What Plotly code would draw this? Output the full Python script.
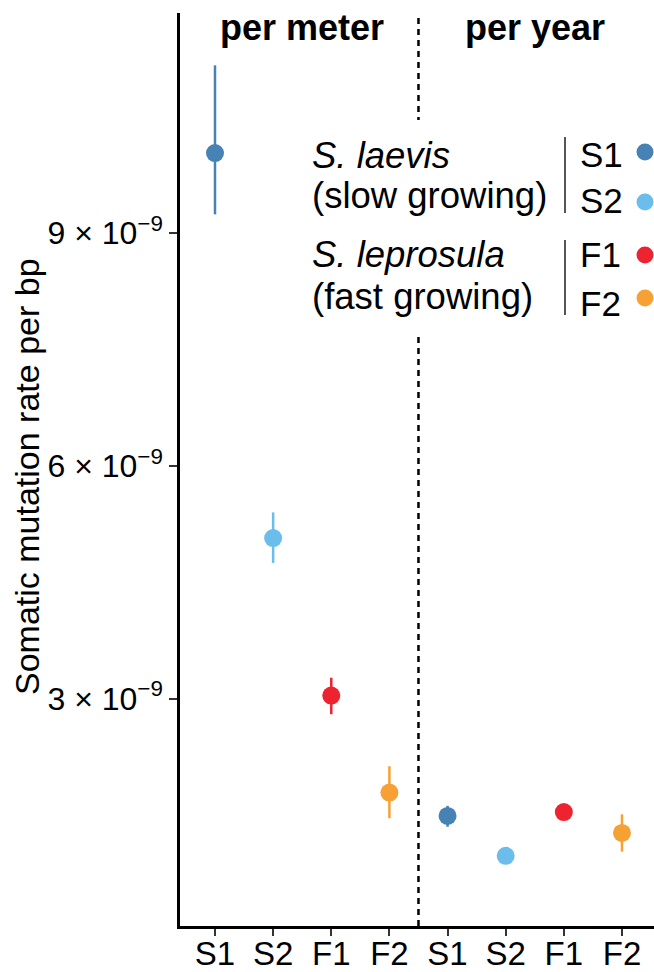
import plotly.graph_objects as go

# ---- data ----
samples = ["S1", "S2", "F1", "F2"]
measures = ["per meter", "per year"]
colors = {"S1": "#4682B4", "S2": "#6BBDEB", "F1": "#EE2330", "F2": "#F7A135"}

# mutation rate per bp (per meter, per year)
rate = {
    "S1": [10.03e-9, 1.49e-9],
    "S2": [5.07e-9, 0.975e-9],
    "F1": [3.04e-9, 1.54e-9],
    "F2": [1.79e-9, 1.27e-9],
}
upper = {
    "S1": [11.16e-9, 1.62e-9],
    "S2": [5.40e-9, 1.03e-9],
    "F1": [3.27e-9, 1.60e-9],
    "F2": [2.13e-9, 1.51e-9],
}
lower = {
    "S1": [9.24e-9, 1.35e-9],
    "S2": [4.75e-9, 0.92e-9],
    "F1": [2.80e-9, 1.48e-9],
    "F2": [1.46e-9, 1.03e-9],
}
ytick_vals = [3e-9, 6e-9, 9e-9]
ytick_text = ["3 \u00d7 10<sup>\u22129</sup>", "6 \u00d7 10<sup>\u22129</sup>", "9 \u00d7 10<sup>\u22129</sup>"]

FONT = "Liberation Sans, Arial, sans-serif"
W, H = 654, 972
ML, MR, MT, MB = 180, 0, 13, 46
PW, PH = W - ML - MR, H - MT - MB


def px(x):
    return (x - ML) / PW


def py(y):
    return (H - MB - y) / PH


fig = go.Figure()
xpos_all, xlab_all = [], []
for gi, m in enumerate(measures):
    for si, s in enumerate(samples):
        xpos_all.append(gi * len(samples) + si + 1)
        xlab_all.append(s)

for si, s in enumerate(samples):
    xs = [gi * len(samples) + si + 1 for gi in range(len(measures))]
    ys = rate[s]
    fig.add_trace(go.Scatter(
        x=xs, y=ys, mode="markers",
        marker=dict(size=18, color=colors[s], line=dict(width=0)),
        error_y=dict(type="data", symmetric=False,
                     array=[u - v for u, v in zip(upper[s], ys)],
                     arrayminus=[v - l for l, v in zip(lower[s], ys)],
                     color=colors[s], thickness=2.5, width=0),
        showlegend=False, name=s,
    ))

shapes = [
    dict(type="line", xref="x", yref="paper", x0=4.5, x1=4.5, y0=0, y1=py(18),
         line=dict(color="black", width=2.5, dash="6px,5px"), layer="above"),
    dict(type="rect", xref="paper", yref="paper", x0=px(300), x1=px(654),
         y0=py(335), y1=py(120), fillcolor="white", line=dict(width=0), layer="above"),
    dict(type="line", xref="paper", yref="paper", x0=px(565), x1=px(565),
         y0=py(213), y1=py(137), line=dict(color="#555555", width=2), layer="above"),
    dict(type="line", xref="paper", yref="paper", x0=px(565), x1=px(565),
         y0=py(315), y1=py(240), line=dict(color="#555555", width=2), layer="above"),
]
legend_rows = [("S1", 154, 152), ("S2", 200, 202), ("F1", 255, 255), ("F2", 303, 298)]
annotations = []
for s, ty, dy in legend_rows:
    annotations.append(dict(text=s, xref="paper", yref="paper", x=px(578), y=py(ty),
                            xanchor="left", yanchor="middle", showarrow=False,
                            font=dict(size=35, color="black", family=FONT)))
    shapes.append(dict(type="circle", xref="paper", yref="paper",
                       xsizemode="pixel", ysizemode="pixel",
                       xanchor=px(645), yanchor=py(dy), x0=-8.5, x1=8.5, y0=-8.5, y1=8.5,
                       fillcolor=colors[s], line=dict(width=0), layer="above"))

left_rows = [("<i>S. laevis</i>", 155), ("(slow growing)", 195),
             ("<i>S. leprosula</i>", 255), ("(fast growing)", 296)]
for t, ty in left_rows:
    annotations.append(dict(text=t, xref="paper", yref="paper", x=px(310), y=py(ty),
                            xanchor="left", yanchor="middle", showarrow=False,
                            font=dict(size=36.5, color="black", family=FONT)))

for gi, m in enumerate(measures):
    annotations.append(dict(text="<b>%s</b>" % m, xref="x", yref="paper",
                            x=gi * len(samples) + (len(samples) + 1) / 2, y=py(27),
                            xanchor="center", yanchor="middle", showarrow=False,
                            font=dict(size=36, color="black", family=FONT)))
annotations.append(dict(text="Somatic mutation rate per bp", xref="paper", yref="paper",
                        x=px(27), y=py(477), xanchor="center", yanchor="middle",
                        textangle=-90, showarrow=False,
                        font=dict(size=34, color="black", family=FONT)))

fig.update_layout(
    width=W, height=H, margin=dict(l=ML, r=MR, t=MT, b=MB, autoexpand=False),
    plot_bgcolor="white", paper_bgcolor="white",
    shapes=shapes, annotations=annotations,
    font=dict(family=FONT, color="black"),
)
fig.update_xaxes(range=[0.398, 8.551], tickmode="array", tickvals=xpos_all, ticktext=xlab_all,
                 showgrid=False, zeroline=False, showline=True, linecolor="black", linewidth=2.5,
                 ticks="outside", ticklen=7, tickwidth=2, tickcolor="#333333", automargin=False,
                 ticklabelstandoff=-10,
                 tickfont=dict(size=33, color="black", family=FONT))
fig.update_yaxes(range=[0.0715e-9, 11.834e-9], tickmode="array", tickvals=ytick_vals,
                 ticktext=ytick_text, showgrid=False, zeroline=False, showline=True,
                 linecolor="black", linewidth=2.5, ticks="outside", ticklen=8, tickwidth=2,
                 tickcolor="#333333", automargin=False,
                 tickfont=dict(size=32, color="black", family=FONT))

fig.write_html("out.html", config={"displayModeBar": False},
               post_script="document.body.style.margin='0';document.body.style.overflow='hidden';")
